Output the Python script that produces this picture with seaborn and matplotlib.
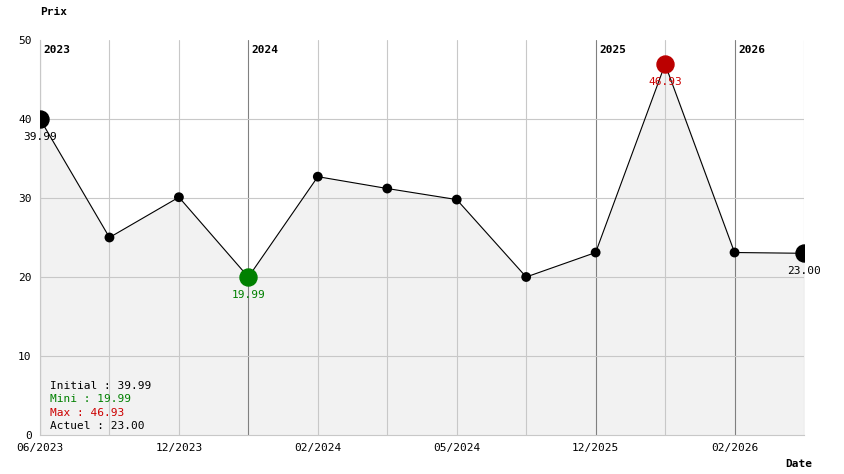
import matplotlib
matplotlib.use("Agg")
import matplotlib.pyplot as plt
import seaborn as sns
import numpy as np

prices = [39.99, 25.0, 30.1, 19.99, 32.7, 31.2, 29.8, 20.0, 23.1, 46.93, 23.1, 23.00]
tick_labels = ["06/2023", "", "12/2023", "", "02/2024", "", "05/2024", "", "12/2025", "", "02/2026", ""]
years = {0: "2023", 3: "2024", 8: "2025", 10: "2026"}
legend_lines = [("Initial : 39.99", "black"), ("Mini : 19.99", "green"),
                ("Max : 46.93", "#cc0000"), ("Actuel : 23.00", "black")]

sns.set_style("white")
plt.rcParams["font.family"] = ["DejaVu Sans Mono"]
plt.rcParams["font.size"] = 8
plt.rcParams["text.color"] = "black"
plt.rcParams["xtick.color"] = "black"
plt.rcParams["ytick.color"] = "black"

fig = plt.figure(figsize=(8.44, 4.74), dpi=100)
ax = fig.add_axes([40 / 844, 39 / 474, 764 / 844, 395 / 474])
x = np.arange(len(prices))

ax.fill_between(x, prices, 0, color="#f2f2f2", zorder=0)
for i in x:
    col = "#808080" if i in years else "#c8c8c8"
    ax.axvline(i, color=col, lw=0.8, zorder=1)
for yv in [10, 20, 30, 40]:
    ax.axhline(yv, color="#c8c8c8", lw=0.8, zorder=1)

sns.lineplot(x=x, y=prices, ax=ax, color="black", lw=0.8, zorder=2)
sns.scatterplot(x=x[1:-1], y=prices[1:-1], ax=ax, color="black", s=50, zorder=3, edgecolor="none")

imin = int(np.argmin(prices))
imax = int(np.argmax(prices))
ax.scatter([0, len(prices) - 1], [prices[0], prices[-1]], color="black", s=150, zorder=4)
ax.scatter([imin], [prices[imin]], color="green", s=150, zorder=4)
ax.scatter([imax], [prices[imax]], color="#bb0000", s=150, zorder=4)

off = 1.6
ax.text(0, prices[0] - off, f"{prices[0]:.2f}", ha="center", va="top")
ax.text(imin, prices[imin] - off, f"{prices[imin]:.2f}", ha="center", va="top", color="green")
ax.text(imax, prices[imax] - off, f"{prices[imax]:.2f}", ha="center", va="top", color="#cc0000")
ax.text(len(prices) - 1, prices[-1] - off, f"{prices[-1]:.2f}", ha="center", va="top")

for i, yr in years.items():
    ax.text(i + 0.05, 48.7, yr, ha="left", va="center", fontweight="bold")

for k, (t, c) in enumerate(legend_lines):
    ax.text(0.15, 6.2 - k * 1.7, t, color=c, ha="left", va="center")

ax.set_xlim(0, len(prices) - 1)
ax.set_ylim(0, 50)
ax.set_xticks(x)
ax.set_xticklabels(tick_labels)
ax.set_yticks([0, 10, 20, 30, 40, 50])
ax.tick_params(length=0, pad=6)
for s in ["top", "right"]:
    ax.spines[s].set_visible(False)
for s in ["left", "bottom"]:
    ax.spines[s].set_color("#c8c8c8")

fig.text(40 / 844, 1 - 12 / 474, "Prix", fontweight="bold", va="center")
fig.text(1 - 32 / 844, 10 / 474, "Date", fontweight="bold", ha="right", va="center")

fig.savefig("out.png", dpi=100)
